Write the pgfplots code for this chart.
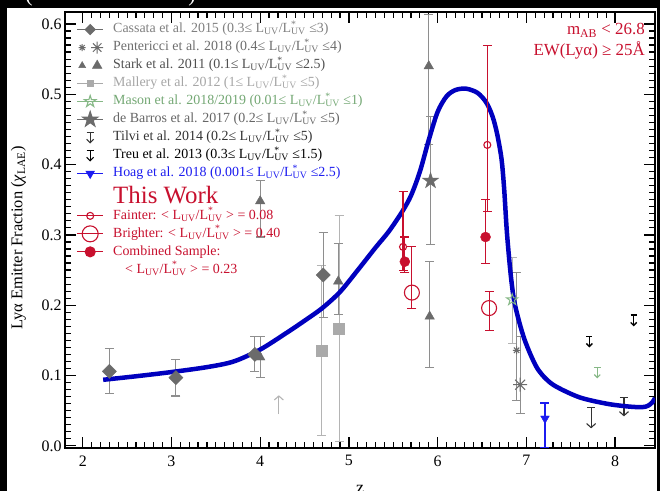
\documentclass[border=0pt]{standalone}
\usepackage{fontspec}
\setmainfont{Liberation Serif}
\usepackage{pgfplots}
\pgfplotsset{compat=1.18}
\usetikzlibrary{arrows.meta}

\definecolor{cgray}{HTML}{6B6B6B}
\definecolor{cbar}{HTML}{8E8E8E}
\definecolor{clight}{HTML}{AAAAAA}
\definecolor{clightbar}{HTML}{B4B4B4}
\definecolor{cgreen}{HTML}{86B886}
\definecolor{cred}{HTML}{C8102E}
\definecolor{cblue}{HTML}{1C1CF0}
\definecolor{ccurve}{HTML}{0000BE}
\definecolor{tcass}{HTML}{808080}
\definecolor{tpent}{HTML}{6E6E6E}
\definecolor{tstark}{HTML}{505050}
\definecolor{tmall}{HTML}{A6A6A6}
\definecolor{tmason}{HTML}{74A874}
\definecolor{tbarr}{HTML}{666666}
\definecolor{ttilvi}{HTML}{333333}

\newcommand{\LL}{L\textsubscript{UV}/L\rlap{\textsuperscript{*}}\textsubscript{UV}}

\newcommand{\starpath}{%
  \pgfpathmoveto{\pgfpointpolar{90}{\pgfplotmarksize}}%
  \pgfpathlineto{\pgfpointpolar{126}{0.382\pgfplotmarksize}}%
  \pgfpathlineto{\pgfpointpolar{162}{\pgfplotmarksize}}%
  \pgfpathlineto{\pgfpointpolar{198}{0.382\pgfplotmarksize}}%
  \pgfpathlineto{\pgfpointpolar{234}{\pgfplotmarksize}}%
  \pgfpathlineto{\pgfpointpolar{270}{0.382\pgfplotmarksize}}%
  \pgfpathlineto{\pgfpointpolar{306}{\pgfplotmarksize}}%
  \pgfpathlineto{\pgfpointpolar{342}{0.382\pgfplotmarksize}}%
  \pgfpathlineto{\pgfpointpolar{18}{\pgfplotmarksize}}%
  \pgfpathlineto{\pgfpointpolar{54}{0.382\pgfplotmarksize}}%
  \pgfpathclose}
\pgfdeclareplotmark{fstar}{\starpath\pgfusepathqfillstroke}
\pgfdeclareplotmark{ostar}{\starpath\pgfusepathqstroke}
\pgfdeclareplotmark{ast8}{%
  \pgfpathmoveto{\pgfpointpolar{0}{\pgfplotmarksize}}\pgfpathlineto{\pgfpointpolar{180}{\pgfplotmarksize}}%
  \pgfpathmoveto{\pgfpointpolar{45}{\pgfplotmarksize}}\pgfpathlineto{\pgfpointpolar{225}{\pgfplotmarksize}}%
  \pgfpathmoveto{\pgfpointpolar{90}{\pgfplotmarksize}}\pgfpathlineto{\pgfpointpolar{270}{\pgfplotmarksize}}%
  \pgfpathmoveto{\pgfpointpolar{135}{\pgfplotmarksize}}\pgfpathlineto{\pgfpointpolar{315}{\pgfplotmarksize}}%
  \pgfusepathqstroke}

\pgfplotsset{
  LBox/.code={\path[draw=none,fill=none] (0bp,-5bp) rectangle (26bp,5bp);},
  LLine/.style={legend image code/.code={\path[draw=none,fill=none] (0bp,-5bp) rectangle (26bp,5bp);\begin{scope}[overlay]\draw[mark repeat=2,mark phase=2,line width=1.1bp] plot coordinates {(0bp,0bp) (13bp,0bp) (26bp,0bp)};\end{scope}}},
  LTwo/.style 2 args={legend image code/.code={\path[draw=none,fill=none] (0bp,-5bp) rectangle (26bp,5bp);\begin{scope}[overlay]\draw[mark size=#1] plot coordinates {(5bp,0bp)};\draw[mark size=#2] plot coordinates {(20bp,0bp)};\end{scope}}},
  LArr/.style={legend image code/.code={\path[draw=none,fill=none] (0bp,-5bp) rectangle (26bp,5bp);\begin{scope}[overlay]\draw[line width=1.1bp,arrows={Bar[width=7bp]-Straight Barb[length=3.5bp,width=7bp]}] (13bp,6bp) -- (13bp,-6bp);\end{scope}}},
  EB/.style={error bars/.cd, y dir=both, y explicit,
    error bar style={#1, line width=1.1bp},
    error mark options={rotate=90, #1, line width=1.1bp, mark size=4.5bp}},
}

\begin{document}
\begin{tikzpicture}
\useasboundingbox (-65bp,-43bp) rectangle (595bp,448bp);
\clip (-65bp,-43bp) rectangle (595bp,448bp);
\fill[black] (-65bp,-43bp) rectangle (595bp,448bp);
\fill[white] (-58bp,-43bp) rectangle (592bp,440bp);
\node[white, anchor=base, font=\fontsize{22}{24}\selectfont, inner sep=0pt] at (-36bp,446bp) {(};
\node[white, anchor=base, font=\fontsize{22}{24}\selectfont, inner sep=0pt] at (127bp,446bp) {)};
\begin{axis}[
  at={(0,0)}, anchor=south west,
  scale only axis, width=590bp, height=436bp,
  xmin=1.8, xmax=8.45, ymin=-0.003, ymax=0.617,
  xtick={2,3,4,5,6,7,8},
  ytick={0,0.1,0.2,0.3,0.4,0.5,0.6},
  minor x tick num=9, minor y tick num=9,
  tick align=inside, xtick pos=both, ytick pos=both,
  major tick length=11bp, minor tick length=6bp,
  every tick/.style={black, line width=1.2bp},
  axis line style={line width=2bp},
  /pgf/number format/assume math mode=true,
  tick label style={font=\fontsize{16}{18}\selectfont},
  yticklabel style={/pgf/number format/.cd, fixed, fixed zerofill, precision=1},
  xticklabel style={yshift=-4bp},
  legend cell align=left,
  legend style={at={(rel axis cs:0,1)}, anchor=north west, xshift=12bp, yshift=-10.5bp,
    draw=none, fill=none, inner sep=0pt, row sep=4.3bp, column sep=10bp,
    font=\fontsize{14}{16}\selectfont,
    nodes={inner sep=0pt, text height=10bp, text depth=3.7bp}},
]
% ---------- legend ----------
\addlegendimage{cgray, mark=square*, mark options={rotate=45}, mark size=3.5bp, LLine}
\addlegendentry[text=tcass]{Cassata et al. 2015 (0.3≤ \LL{} ≤3)}
\addlegendimage{cgray, mark=ast8, line width=1bp, LTwo={3.5bp}{6bp}}
\addlegendentry[text=tpent]{Pentericci et al. 2018 (0.4≤ \LL{} ≤4)}
\addlegendimage{cgray, mark=triangle*, LTwo={4bp}{5.5bp}}
\addlegendentry[text=tstark]{Stark et al. 2011 (0.1≤ \LL{} ≤2.5)}
\addlegendimage{clight, mark=square*, mark size=3bp, LLine}
\addlegendentry[text=tmall]{Mallery et al. 2012 (1≤ \LL{} ≤5)}
\addlegendimage{cgreen, mark=ostar, mark size=6bp, LLine}
\addlegendentry[text=tmason]{Mason et al. 2018/2019 (0.01≤ \LL{} ≤1)}
\addlegendimage{cgray, mark=fstar, mark size=8bp, LLine}
\addlegendentry[text=tbarr]{de Barros et al. 2017 (0.2≤ \LL{} ≤5)}
\addlegendimage{ttilvi, LArr}
\addlegendentry[text=ttilvi]{Tilvi et al. 2014 (0.2≤ \LL{} ≤5)}
\addlegendimage{black, LArr}
\addlegendentry[text=black]{Treu et al. 2013 (0.3≤ \LL{} ≤1.5)}
\addlegendimage{cblue, mark=triangle*, mark options={rotate=180}, mark size=4.5bp, LLine}
\addlegendentry[text=cblue]{Hoag et al. 2018 (0.001≤ \LL{} ≤2.5)}
\addlegendimage{empty legend}
\addlegendentry[text=cred, font=\fontsize{25}{28}\selectfont, text height=19bp, text depth=1bp]{This Work}
\addlegendimage{cred, mark=o, mark size=3.5bp, line width=1.1bp, LLine}
\addlegendentry[text=cred]{Fainter: < \LL{} > = 0.08}
\addlegendimage{cred, mark=o, mark size=8bp, line width=1.1bp, LLine}
\addlegendentry[text=cred]{Brighter: < \LL{} > = 0.40}
\addlegendimage{cred, mark=*, mark size=5bp, LLine}
\addlegendentry[text=cred]{Combined Sample:}
\addlegendimage{empty legend}
\addlegendentry[text=cred]{\hspace{12bp}< \LL{} > = 0.23}

% ---------- Mallery (light gray squares) ----------
\addplot[forget plot, only marks, mark=square*, mark size=5.5bp, clight,
  EB=clightbar] table[x=x, y=y, y error plus=ep, y error minus=em] {
x y ep em
4.69 0.136 0.121 0.121
4.89 0.166 0.161 0.160
};
\addplot[forget plot, clightbar, line width=1.1bp, arrows={-Straight Barb[length=4bp,width=9bp]}]
  coordinates {(4.21,0.045) (4.21,0.072)};

% ---------- Cassata (diamonds) ----------
\addplot[forget plot, only marks, mark=square*, mark options={rotate=45}, mark size=5bp, cgray,
  EB=cbar] table[x=x, y=y, y error plus=ep, y error minus=em] {
x y ep em
2.30 0.106 0.032 0.032
3.05 0.097 0.026 0.026
3.94 0.130 0.025 0.024
4.71 0.243 0.060 0.061
};

% ---------- Stark (triangles) ----------
\addplot[forget plot, only marks, mark=triangle*, mark size=5.5bp, cgray,
  EB=cbar] table[x=x, y=y, y error plus=ep, y error minus=em] {
x y ep em
4.00 0.348 0.029 0.051
4.00 0.126 0.030 0.029
4.88 0.234 0.054 0.047
5.90 0.540 0.074 0.112
5.91 0.184 0.078 0.073
};

% ---------- de Barros (star) ----------
\addplot[forget plot, only marks, mark=fstar, mark size=8.5bp, cgray,
  EB=cbar] table[x=x, y=y, y error plus=ep, y error minus=em] {
x y ep em
5.92 0.377 0.091 0.090
};

% ---------- Mason (open star) ----------
\addplot[forget plot, only marks, mark=ostar, mark size=6bp, cgreen, line width=1bp,
  EB=clightbar] table[x=x, y=y, y error plus=ep, y error minus=em] {
x y ep em
6.84 0.208 0.060 0.062
};
\addplot[forget plot, cgreen, line width=1.1bp, arrows={Bar[width=7bp]-Straight Barb[length=3bp,width=6bp]}]
  coordinates {(7.80,0.112) (7.80,0.096)};

% ---------- Pentericci (asterisks) ----------
\addplot[forget plot, only marks, mark=ast8, mark size=3.8bp, cgray, line width=1bp,
  EB=cbar] table[x=x, y=y, y error plus=ep, y error minus=em] {
x y ep em
6.89 0.136 0.110 0.072
};
\addplot[forget plot, only marks, mark=ast8, mark size=7bp, cgray, line width=1bp,
  EB=cbar] table[x=x, y=y, y error plus=ep, y error minus=em] {
x y ep em
6.93 0.087 0.068 0.041
};

% ---------- Hoag ----------
\addplot[forget plot, only marks, mark=triangle*, mark options={rotate=180}, mark size=5bp, cblue,
  EB=cblue] table[x=x, y=y, y error plus=ep, y error minus=em] {
x y ep em
7.21 0.039 0.022 0.042
};

% ---------- Tilvi / Treu upper limits ----------
\addplot[forget plot, ttilvi, line width=1.1bp, arrows={Bar[width=8bp]-Straight Barb[length=4bp,width=9bp]}]
  coordinates {(7.73,0.055) (7.73,0.025)};
\addplot[forget plot, ttilvi, line width=1.1bp, arrows={Bar[width=8bp]-Straight Barb[length=4bp,width=9bp]}]
  coordinates {(8.10,0.070) (8.10,0.042)};
\addplot[forget plot, black, line width=1.3bp, arrows={Bar[width=6bp]-Straight Barb[length=3bp,width=6bp]}]
  coordinates {(7.71,0.156) (7.71,0.140)};
\addplot[forget plot, black, line width=1.3bp, arrows={Bar[width=6bp]-Straight Barb[length=3bp,width=6bp]}]
  coordinates {(8.21,0.187) (8.21,0.170)};

% ---------- model curve ----------
\addplot[forget plot, ccurve, line width=4.5bp, smooth, tension=0.5] coordinates {
(2.23,0.094) (2.60,0.099) (3.00,0.105) (3.40,0.112) (3.70,0.120) (4.00,0.137)
(4.30,0.161) (4.50,0.178) (4.70,0.196) (4.90,0.219) (5.10,0.250) (5.30,0.282)
(5.45,0.305) (5.60,0.333) (5.70,0.356) (5.80,0.390) (5.90,0.435) (6.00,0.475)
(6.10,0.497) (6.20,0.506) (6.32,0.508) (6.45,0.502) (6.55,0.488) (6.62,0.468)
(6.67,0.444) (6.72,0.408) (6.75,0.365) (6.78,0.305) (6.82,0.248) (6.86,0.208)
(6.92,0.176) (6.98,0.151) (7.05,0.129) (7.12,0.111) (7.20,0.098) (7.30,0.087)
(7.45,0.077) (7.60,0.069) (7.75,0.064) (7.95,0.059) (8.15,0.056) (8.30,0.055)
(8.37,0.057) (8.42,0.062) (8.45,0.068)
};

% ---------- This work ----------
\addplot[forget plot, only marks, mark=o, mark size=3.5bp, cred, line width=1.1bp,
  EB=cred] table[x=x, y=y, y error plus=ep, y error minus=em] {
x y ep em
5.61 0.283 0.079 0.034
6.56 0.428 0.142 0.095
};
\addplot[forget plot, only marks, mark=*, mark size=5bp, cred,
  EB=cred] table[x=x, y=y, y error plus=ep, y error minus=em] {
x y ep em
5.63 0.262 0.035 0.015
6.54 0.297 0.054 0.037
};
\addplot[forget plot, only marks, mark=o, mark size=7.5bp, cred, line width=1.1bp,
  EB=cred] table[x=x, y=y, y error plus=ep, y error minus=em] {
x y ep em
5.71 0.218 0.065 0.022
6.58 0.196 0.023 0.032
};

\node[anchor=north east, align=right, text=cred, inner sep=0pt,
  font=\fontsize{17}{21}\selectfont] at (rel axis cs:1,1) [xshift=-10bp, yshift=-11bp]
  {m\textsubscript{AB} < 26.8\\EW(Lyα) ≥ 25Å};
\end{axis}
\node[rotate=90, font=\fontsize{16.5}{18}\selectfont] at (-46.5bp,210bp)
  {Lyα Emitter Fraction (\textit{χ}\textsubscript{LAE})};
\node[anchor=base, font=\fontsize{18}{20}\selectfont] at (295bp,-45bp) {z};
\end{tikzpicture}
\end{document}
